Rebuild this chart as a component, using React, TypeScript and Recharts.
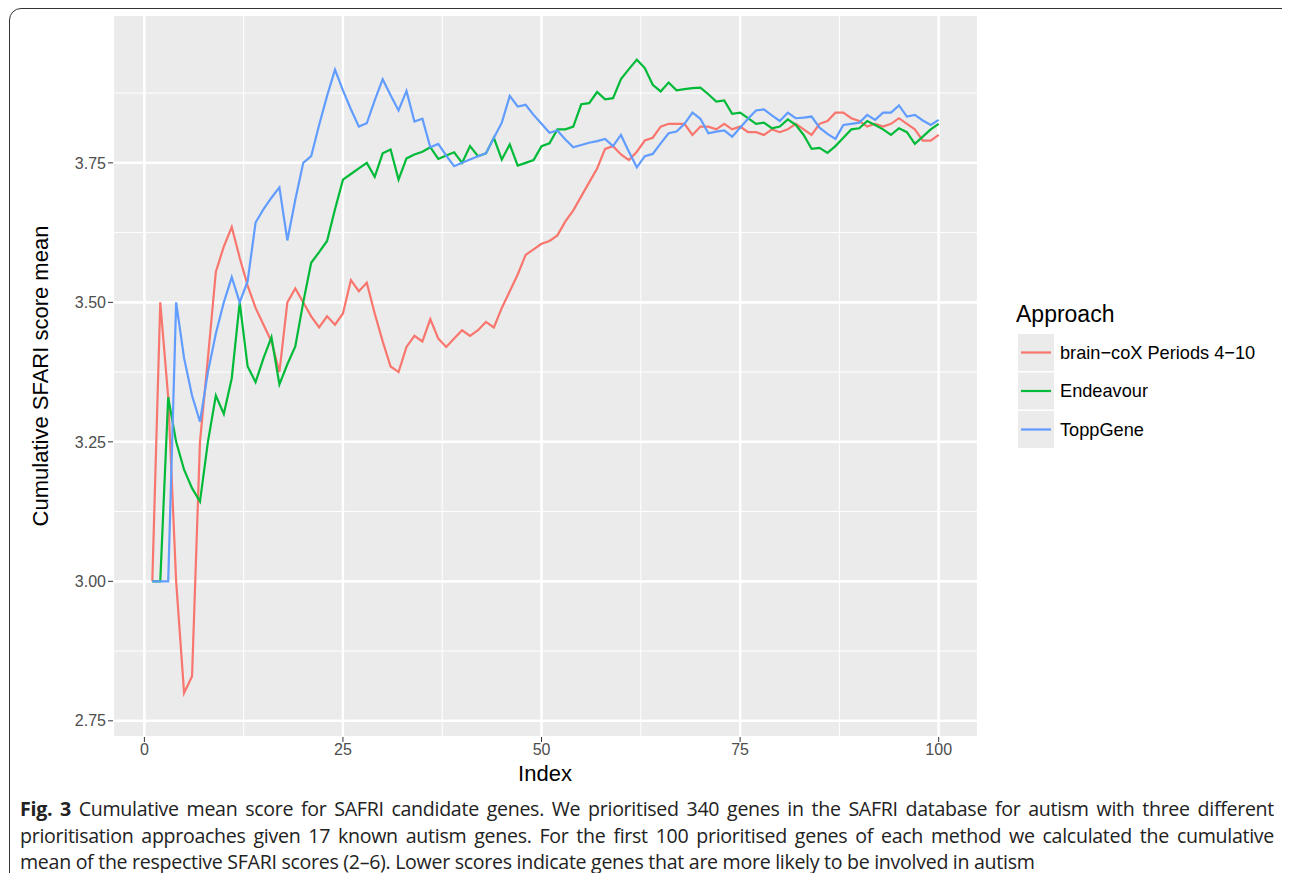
import { CartesianGrid, Line, LineChart, ReferenceLine, XAxis, YAxis } from "recharts";

const brainCox = [
  3.0, 3.5, 3.33, 3.0, 2.8, 2.83, 3.25, 3.4, 3.555, 3.6,
  3.635, 3.58, 3.53, 3.49, 3.46, 3.43, 3.375, 3.5, 3.525, 3.5,
  3.475, 3.455, 3.475, 3.46, 3.48, 3.54, 3.52, 3.535, 3.48, 3.43,
  3.385, 3.375, 3.42, 3.44, 3.43, 3.47, 3.435, 3.42, 3.435, 3.45,
  3.44, 3.45, 3.465, 3.455, 3.49, 3.52, 3.55, 3.585, 3.595, 3.605,
  3.61, 3.62, 3.645, 3.665, 3.69, 3.715, 3.74, 3.775, 3.78, 3.765,
  3.755, 3.77, 3.79, 3.795, 3.815, 3.82, 3.82, 3.82, 3.8, 3.815,
  3.815, 3.81, 3.82, 3.81, 3.815, 3.805, 3.805, 3.8, 3.81, 3.805,
  3.81, 3.82, 3.81, 3.8, 3.82, 3.825, 3.84, 3.84, 3.83, 3.825,
  3.815, 3.82, 3.815, 3.82, 3.83, 3.82, 3.81, 3.79, 3.79, 3.8,
];

const endeavour = [
  3.0, 3.0, 3.33, 3.25, 3.2, 3.167, 3.143, 3.25, 3.333, 3.3,
  3.364, 3.5, 3.385, 3.357, 3.4, 3.4375, 3.353, 3.389, 3.421, 3.5,
  3.571, 3.59, 3.61, 3.667, 3.72, 3.73, 3.74, 3.75, 3.725, 3.767,
  3.774, 3.72, 3.758, 3.765, 3.77, 3.778, 3.757, 3.763, 3.769, 3.75,
  3.78, 3.762, 3.767, 3.795, 3.756, 3.783, 3.745, 3.75, 3.755, 3.78,
  3.785, 3.81, 3.81, 3.815, 3.855, 3.857, 3.877, 3.864, 3.866, 3.9,
  3.918, 3.935, 3.92, 3.89, 3.878, 3.894, 3.88, 3.882, 3.884, 3.885,
  3.873, 3.86, 3.862, 3.838, 3.84, 3.83, 3.82, 3.822, 3.812, 3.815,
  3.828, 3.818, 3.8, 3.775, 3.777, 3.768, 3.78, 3.795, 3.81, 3.812,
  3.825, 3.818, 3.81, 3.8, 3.812, 3.805, 3.784, 3.797, 3.81, 3.82,
];

const toppGene = [
  3.0, 3.0, 3.0, 3.5, 3.4, 3.333, 3.286, 3.375, 3.444, 3.5,
  3.545, 3.5, 3.538, 3.643, 3.667, 3.6875, 3.706, 3.611, 3.684, 3.75,
  3.762, 3.818, 3.87, 3.917, 3.88, 3.846, 3.815, 3.821, 3.862, 3.9,
  3.871, 3.844, 3.879, 3.824, 3.829, 3.778, 3.784, 3.763, 3.744, 3.75,
  3.756, 3.762, 3.767, 3.795, 3.822, 3.87, 3.851, 3.854, 3.836, 3.82,
  3.804, 3.808, 3.792, 3.778, 3.782, 3.786, 3.789, 3.793, 3.78, 3.8,
  3.77, 3.742, 3.762, 3.766, 3.785, 3.803, 3.806, 3.82, 3.84, 3.829,
  3.803, 3.806, 3.808, 3.797, 3.813, 3.829, 3.844, 3.846, 3.835, 3.825,
  3.84, 3.83, 3.831, 3.833, 3.813, 3.802, 3.793, 3.818, 3.82, 3.822,
  3.836, 3.827, 3.84, 3.84, 3.853, 3.833, 3.836, 3.826, 3.818, 3.827,
];

const xTicks = [0, 25, 50, 75, 100];
const yTicks = [2.75, 3.0, 3.25, 3.5, 3.75];
const xMinor = [12.5, 37.5, 62.5, 87.5];
const yMinor = [2.875, 3.125, 3.375, 3.625, 3.875];

const captionLines = [
  "Cumulative mean score for SAFRI candidate genes. We prioritised 340 genes in the SAFRI database for autism with three different",
  "prioritisation approaches given 17 known autism genes. For the first 100 prioritised genes of each method we calculated the cumulative",
  "mean of the respective SFARI scores (2–6). Lower scores indicate genes that are more likely to be involved in autism",
];

const series = [
  { key: "brain", name: "brain\u2212coX Periods 4\u221210", color: "#F8766D", values: brainCox },
  { key: "endeavour", name: "Endeavour", color: "#00BA38", values: endeavour },
  { key: "topp", name: "ToppGene", color: "#619CFF", values: toppGene },
];

const data = brainCox.map((_, i) => ({
  index: i + 1,
  brain: brainCox[i],
  endeavour: endeavour[i],
  topp: toppGene[i],
}));

const font = "'Liberation Sans', Arial, sans-serif";

export default function App() {
  return (
    <div style={{ position: "relative", margin: -8, width: 1290, height: 881, overflow: "hidden", background: "#fff" }}>
      <div style={{ position: "absolute", left: 9, top: 8, width: 1290, height: 950, border: "1px solid #333", borderRadius: 12 }} />
      <div style={{ position: "absolute", left: 0, top: 0 }}>
        <LineChart width={1290} height={790} data={data} margin={{ top: 15, right: 312, bottom: 23, left: 53 }}>
          <CartesianGrid stroke="#fff" strokeWidth={2.2} fill="#EBEBEB" fillOpacity={1} />
          {xMinor.map((v) => (
            <ReferenceLine key={"x" + v} x={v} stroke="#fff" strokeWidth={1} />
          ))}
          {yMinor.map((v) => (
            <ReferenceLine key={"y" + v} y={v} stroke="#fff" strokeWidth={1} />
          ))}
          {xTicks.map((v) => (
            <ReferenceLine key={"X" + v} x={v} stroke="#fff" strokeWidth={2.2} />
          ))}
          {yTicks.map((v) => (
            <ReferenceLine key={"Y" + v} y={v} stroke="#fff" strokeWidth={2.2} />
          ))}
          <XAxis
            dataKey="index"
            type="number"
            domain={[-3.95, 104.95]}
            ticks={xTicks}
            allowDataOverflow
            height={30}
            tick={{ fill: "#4D4D4D", fontSize: 16, fontFamily: font }}
            tickLine={{ stroke: "#333" }}
            tickSize={5}
            axisLine={false}
          />
          <YAxis
            type="number"
            domain={[2.721, 4.015]}
            ticks={yTicks}
            allowDataOverflow
            width={60}
            tickFormatter={(v: number) => v.toFixed(2)}
            tick={{ fill: "#4D4D4D", fontSize: 16, fontFamily: font }}
            tickLine={{ stroke: "#333" }}
            tickSize={5}
            axisLine={false}
          />
          {series.map((s) => (
            <Line
              key={s.key}
              dataKey={s.key}
              stroke={s.color}
              strokeWidth={2.2}
              dot={false}
              type="linear"
              isAnimationActive={false}
            />
          ))}
          <text x={545} y={781} textAnchor="middle" fontSize={22} fontFamily={font} fill="#000">Index</text>
          <text x={48} y={376} textAnchor="middle" fontSize={22} fontFamily={font} fill="#000" transform="rotate(-90 48 376)">
            Cumulative SFARI score mean
          </text>
          <text x={1016} y={322} fontSize={23} fontFamily={font} fill="#000">Approach</text>
          {series.map((s, i) => (
            <g key={s.key}>
              <rect x={1018} y={334 + i * 38.5} width={36} height={37} fill="#EBEBEB" />
              <line x1={1021} x2={1051} y1={352.5 + i * 38.5} y2={352.5 + i * 38.5} stroke={s.color} strokeWidth={2.2} />
              <text x={1060} y={358.5 + i * 38.5} fontSize={18.2} fontFamily={font} fill="#000">{s.name}</text>
            </g>
          ))}
        </LineChart>
      </div>
      <div
        style={{
          position: "absolute",
          left: 20,
          top: 796,
          width: 1254,
          fontFamily: "'Open Sans', sans-serif",
          fontSize: 19.6,
          lineHeight: "26.5px",
          letterSpacing: -0.3,
          color: "#222",
        }}
      >
        {captionLines.map((line, i) => (
          <div
            key={i}
            style={{ whiteSpace: "nowrap", textAlign: i < 2 ? "justify" : "left", textAlignLast: i < 2 ? "justify" : "left", overflow: "hidden" }}
          >
            {i === 0 && <b>Fig. 3 </b>}
            {line}
          </div>
        ))}
      </div>
    </div>
  );
}
